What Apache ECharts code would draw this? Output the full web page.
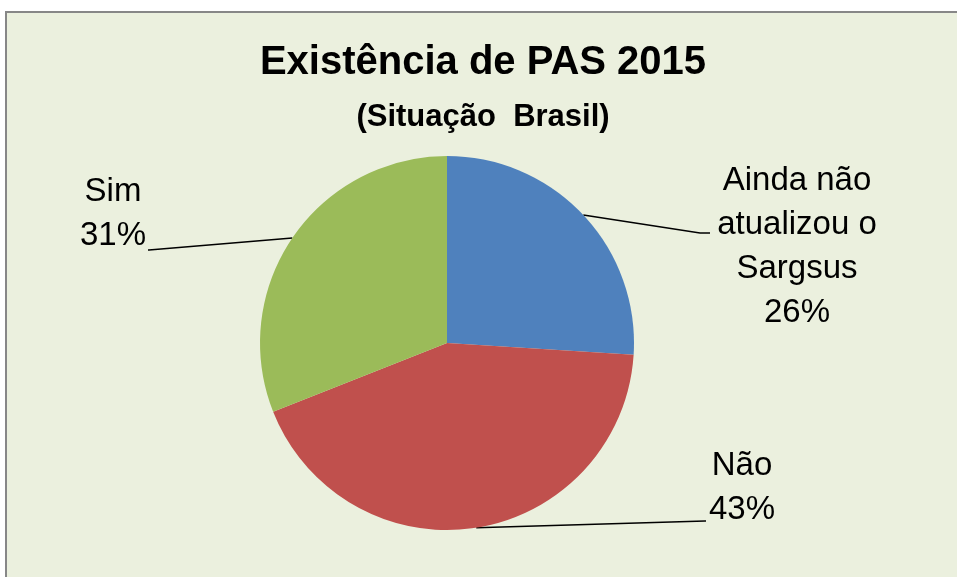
<!DOCTYPE html>
<html>
<head>
<meta charset="utf-8">
<script src="https://cdn.jsdelivr.net/npm/echarts@6/dist/echarts.min.js"></script>
<style>
  html, body { margin: 0; padding: 0; background: #fff; overflow: hidden; }
  #frame { position: absolute; left: 5px; top: 11px; width: 1000px; height: 600px;
           background: #EBF0DE; border: 2px solid #878787; }
  #chart { position: absolute; left: 0; top: 0; width: 957px; height: 577px; }
</style>
</head>
<body>
<div id="frame"></div>
<div id="chart"></div>
<script>
// dados
var categories = ['Ainda não atualizou o Sargsus', 'Não', 'Sim'];
var labelNames = ['Ainda não\natualizou o\nSargsus', 'Não', 'Sim'];
var values = [26, 43, 31];
var colors = ['#4F81BD', '#C0504D', '#9BBB59'];

// posição dos rótulos (centro do bloco de texto) e do fim da linha guia
var labelPos = [
  { x: 797, y: 247, elbow: [700, 233], end: [710, 233] },
  { x: 742, y: 488, elbow: [705, 521], end: [706, 521] },
  { x: 113, y: 214, elbow: [149, 250], end: [148, 250] }
];

var font = "'Liberation Sans', Arial, sans-serif";

var chart = echarts.init(document.getElementById('chart'));

var dataShow = [];
categories.forEach(function (name, i) {
  dataShow.push({ name: name, value: values[i], itemStyle: { color: colors[i] } });
});

var option = {
  backgroundColor: 'transparent',
  animation: false,
  title: [
    {
      text: 'Existência de PAS 2015',
      left: 478, top: 38, textAlign: 'center',
      textStyle: { fontFamily: font, fontSize: 40, fontWeight: 'bold', color: '#000' }
    },
    {
      text: '(Situação  Brasil)',
      left: 478, top: 97, textAlign: 'center',
      textStyle: { fontFamily: font, fontSize: 31, fontWeight: 'bold', color: '#000' }
    }
  ],
  series: [{
    type: 'pie',
    center: [447, 343],
    radius: 187,
    startAngle: 90,
    clockwise: true,
    data: dataShow,
    label: {
      show: true,
      position: 'outside',
      formatter: function (p) {
        return labelNames[p.dataIndex] + '\n' + p.percent.toFixed(0) + '%';
      },
      fontFamily: font,
      fontSize: 33,
      lineHeight: 44,
      color: '#000',
      align: 'center'
    },
    labelLine: {
      show: true,
      length: 20,
      length2: 20,
      smooth: false,
      lineStyle: { color: '#000', width: 1.5 }
    },
    labelLayout: function (params) {
      var p = labelPos[params.dataIndex];
      var start = params.labelLinePoints ? params.labelLinePoints[0] : null;
      var out = { x: p.x, y: p.y, align: 'center', verticalAlign: 'middle' };
      if (start) {
        out.labelLinePoints = [start, p.elbow, p.end];
      }
      return out;
    },
    emphasis: { disabled: true }
  }]
};

chart.setOption(option);
</script>
</body>
</html>
